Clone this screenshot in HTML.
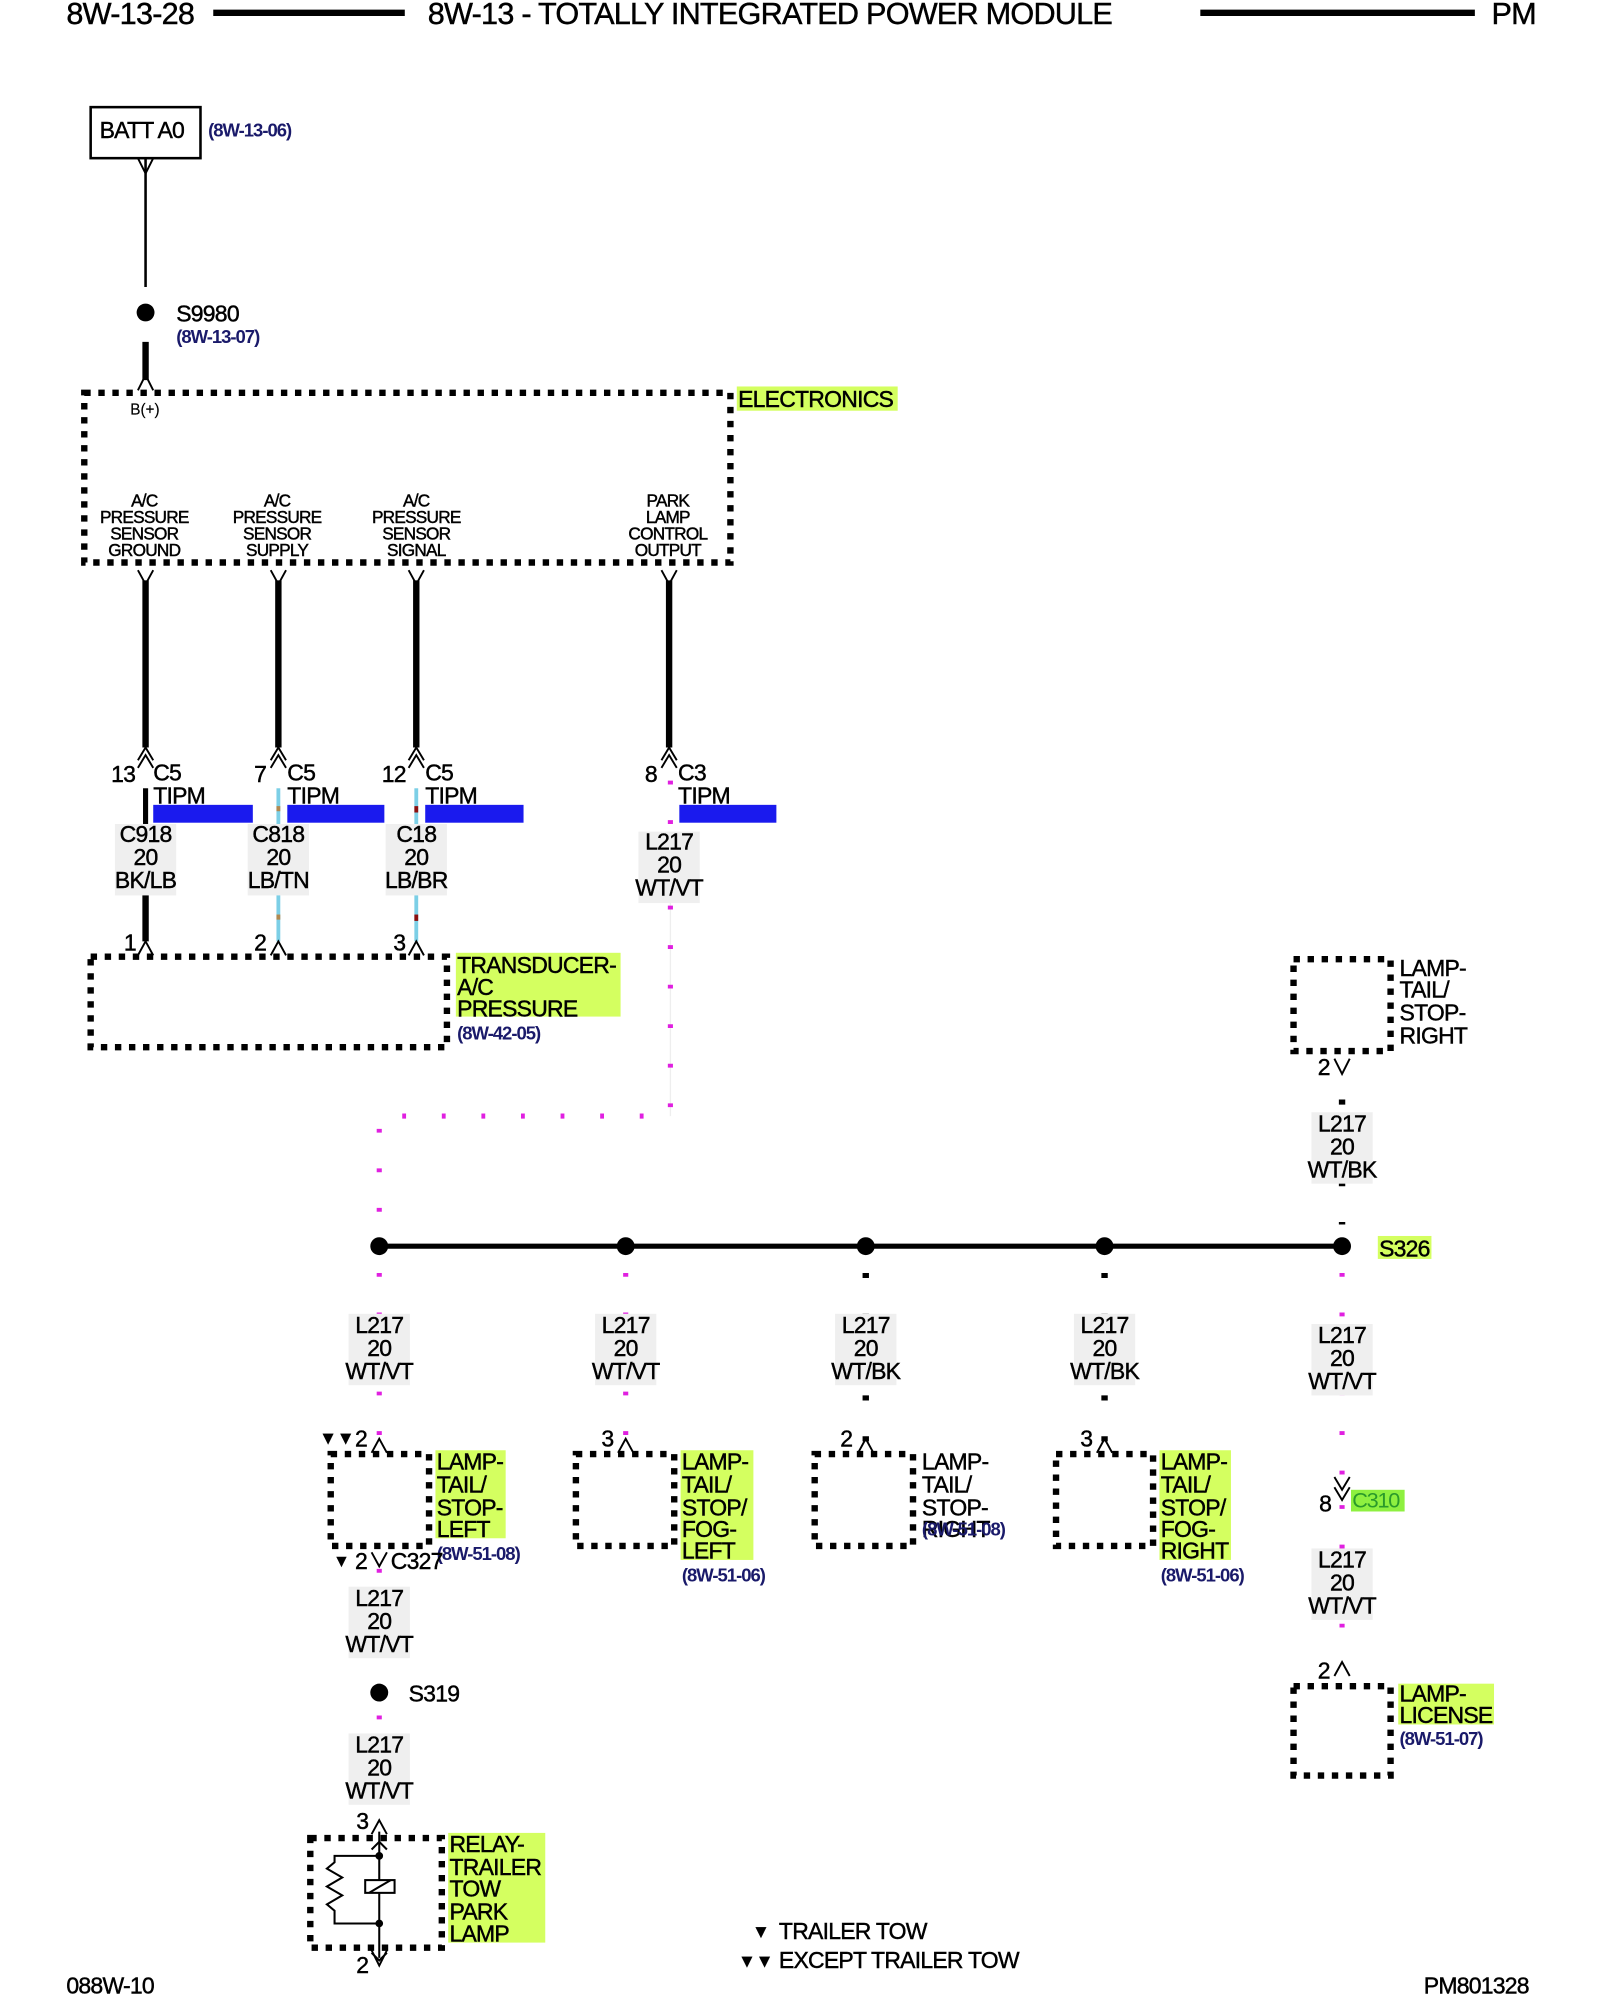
<!DOCTYPE html>
<html><head><meta charset="utf-8"><style>
html,body{margin:0;padding:0;background:#fff;}
svg{display:block}
text{font-family:"Liberation Sans",sans-serif;fill:#000;stroke:#000;stroke-width:0.35px}
.t{font-size:18px;letter-spacing:-0.6px}
.s{font-size:13.5px;letter-spacing:-0.6px;stroke-width:0.2px}
.r{font-size:14.5px;font-weight:bold;fill:#1a1a6a;stroke:none;letter-spacing:-0.8px}
.box{fill:none;stroke:#000;stroke-width:5;stroke-dasharray:5 6}
.pk{stroke:#e020e0;stroke-width:4;stroke-dasharray:3 28;fill:none}
.bk{stroke:#000;stroke-width:5;stroke-dasharray:4 28;fill:none}
.ch{fill:none;stroke:#000;stroke-width:1.5}
</style></head><body>
<svg width="1600" height="2000" viewBox="0 0 1253 1568" preserveAspectRatio="none" xmlns="http://www.w3.org/2000/svg">
<!-- header -->
<text x="52" y="19" style="font-size:24px;letter-spacing:-0.6px">8W-13-28</text>
<line x1="167" y1="10" x2="317" y2="10" stroke="#000" stroke-width="5"/>
<text x="335" y="19" style="font-size:24px;letter-spacing:-0.6px">8W-13 - TOTALLY INTEGRATED POWER MODULE</text>
<line x1="940" y1="10" x2="1155" y2="10" stroke="#000" stroke-width="5"/>
<text x="1168" y="19" style="font-size:24px;letter-spacing:-0.6px">PM</text>

<!-- BATT -->
<rect x="71" y="84" width="86" height="40" fill="none" stroke="#000" stroke-width="2"/>
<text x="78" y="108" class="t">BATT A0</text>
<text x="163" y="107" class="r">(8W-13-06)</text>
<path class="ch" d="M108,124 L114,136 L120,124"/>
<line x1="114" y1="124" x2="114" y2="225" stroke="#000" stroke-width="2"/>
<circle cx="114" cy="245" r="7"/>
<text x="138" y="252" class="t">S9980</text>
<text x="138" y="269" class="r">(8W-13-07)</text>
<line x1="114" y1="268" x2="114" y2="298" stroke="#000" stroke-width="5"/>
<path class="ch" d="M108,306 L114,294 L120,306"/>

<!-- ELECTRONICS -->
<rect x="66" y="308" width="506" height="133" class="box"/>
<rect x="577" y="303" width="126" height="19" fill="#d4ff60"/>
<text x="578" y="319" class="t">ELECTRONICS</text>
<text x="102" y="325" style="font-size:12px;stroke-width:0.1px">B(+)</text>
<g class="s" text-anchor="middle">
<text x="113" y="397">A/C</text><text x="113" y="410">PRESSURE</text><text x="113" y="423">SENSOR</text><text x="113" y="436">GROUND</text>
<text x="217" y="397">A/C</text><text x="217" y="410">PRESSURE</text><text x="217" y="423">SENSOR</text><text x="217" y="436">SUPPLY</text>
<text x="326" y="397">A/C</text><text x="326" y="410">PRESSURE</text><text x="326" y="423">SENSOR</text><text x="326" y="436">SIGNAL</text>
<text x="523" y="397">PARK</text><text x="523" y="410">LAMP</text><text x="523" y="423">CONTROL</text><text x="523" y="436">OUTPUT</text>
</g>

<!-- wires top -->
<g>
<path class="ch" d="M108,447 L114,458 L120,447 M212,447 L218,458 L224,447 M320,447 L326,458 L332,447 M518,447 L524,458 L530,447"/>
<line x1="114" y1="455" x2="114" y2="586" stroke="#000" stroke-width="5"/>
<line x1="218" y1="455" x2="218" y2="586" stroke="#000" stroke-width="5"/>
<line x1="326" y1="455" x2="326" y2="586" stroke="#000" stroke-width="5"/>
<line x1="524" y1="455" x2="524" y2="586" stroke="#000" stroke-width="5"/>
<path class="ch" d="M108,596 L114,586 L120,596 M108,602 L114,592 L120,602 M212,596 L218,586 L224,596 M212,602 L218,592 L224,602 M320,596 L326,586 L332,596 M320,602 L326,592 L332,602 M518,596 L524,586 L530,596 M518,602 L524,592 L530,602"/>
</g>
<g class="t">
<text x="87" y="613">13</text><text x="120" y="612">C5</text><text x="120" y="630">TIPM</text>
<text x="199" y="613">7</text><text x="225" y="612">C5</text><text x="225" y="630">TIPM</text>
<text x="299" y="613">12</text><text x="333" y="612">C5</text><text x="333" y="630">TIPM</text>
<text x="505" y="613">8</text><text x="531" y="612">C3</text><text x="531" y="630">TIPM</text>
</g>
<rect x="120" y="631" width="78" height="14" fill="#1a1aee"/>
<rect x="225" y="631" width="76" height="14" fill="#1a1aee"/>
<rect x="333" y="631" width="77" height="14" fill="#1a1aee"/>
<rect x="532" y="631" width="76" height="14" fill="#1a1aee"/>
<!-- wire segments mid -->
<line x1="114" y1="618" x2="114" y2="650" stroke="#000" stroke-width="4"/>
<line x1="218" y1="618" x2="218" y2="650" stroke="#7ccfe6" stroke-width="3"/>
<line x1="326" y1="618" x2="326" y2="650" stroke="#7ccfe6" stroke-width="3"/>
<path class="pk" d="M525,612 L525,650" stroke-dasharray="3 14"/>
<line x1="114" y1="700" x2="114" y2="738" stroke="#000" stroke-width="5"/>
<line x1="218" y1="700" x2="218" y2="738" stroke="#7ccfe6" stroke-width="3"/>
<line x1="326" y1="700" x2="326" y2="738" stroke="#7ccfe6" stroke-width="3"/>
<rect x="216.5" y="717" width="3" height="4" fill="#b08850"/><rect x="324.5" y="717" width="3" height="5" fill="#8b1010"/>
<rect x="216.5" y="632" width="3" height="4" fill="#b08850"/><rect x="324.5" y="632" width="3" height="5" fill="#8b1010"/>
<!-- wire labels -->
<g fill="#efefef">
<rect x="90" y="646" width="48" height="56"/><rect x="194" y="646" width="48" height="56"/><rect x="302" y="646" width="48" height="56"/><rect x="500" y="652" width="48" height="56"/>
</g>
<g class="t" text-anchor="middle">
<text x="114" y="660">C918</text><text x="114" y="678">20</text><text x="114" y="696">BK/LB</text>
<text x="218" y="660">C818</text><text x="218" y="678">20</text><text x="218" y="696">LB/TN</text>
<text x="326" y="660">C18</text><text x="326" y="678">20</text><text x="326" y="696">LB/BR</text>
<text x="524" y="666">L217</text><text x="524" y="684">20</text><text x="524" y="702">WT/VT</text>
</g>
<path class="ch" d="M108,749 L114,738 L120,749 M212,749 L218,738 L224,749 M320,749 L326,738 L332,749"/>
<g class="t"><text x="97" y="745">1</text><text x="199" y="745">2</text><text x="308" y="745">3</text></g>
<rect x="71" y="750" width="279" height="71" class="box"/>
<rect x="357" y="747" width="129" height="50" fill="#d4ff60"/>
<g class="t"><text x="358" y="763">TRANSDUCER-</text><text x="358" y="780">A/C</text><text x="358" y="797">PRESSURE</text></g>
<text x="358" y="815" class="r">(8W-42-05)</text>

<!-- pink route -->
<line x1="525" y1="708" x2="525" y2="875" stroke="#eee" stroke-width="1"/>
<path class="pk" d="M525,710 L525,875 L297,875 L297,977"/>

<!-- bus -->
<line x1="297" y1="977" x2="1051" y2="977" stroke="#000" stroke-width="4"/>
<g><circle cx="297" cy="977" r="7"/><circle cx="490" cy="977" r="7"/><circle cx="678" cy="977" r="7"/><circle cx="865" cy="977" r="7"/><circle cx="1051" cy="977" r="7"/></g>
<rect x="1079" y="969" width="42" height="18" fill="#d4ff60"/>
<text x="1080" y="985" class="t">S326</text>

<!-- right top lamp -->
<rect x="1013" y="752" width="76" height="72" class="box"/>
<g class="t"><text x="1096" y="765">LAMP-</text><text x="1096" y="782">TAIL/</text><text x="1096" y="800">STOP-</text><text x="1096" y="818">RIGHT</text></g>
<text x="1032" y="843" class="t">2</text>
<path class="ch" d="M1045,830 L1051,842 L1057,830"/>
<path class="bk" d="M1051,862 L1051,960" stroke-dasharray="4 24"/>
<rect x="1027" y="872" width="48" height="56" fill="#efefef"/>
<g class="t" text-anchor="middle"><text x="1051" y="887">L217</text><text x="1051" y="905">20</text><text x="1051" y="923">WT/BK</text></g>

<!-- branches -->
<path class="pk" d="M297,998 L297,1130 M490,998 L490,1130 M1051,998 L1051,1160 M1051,1180 L1051,1300 M297,1230 L297,1320 M297,1345 L297,1420"/>
<path class="bk" d="M678,998 L678,1130 M865,998 L865,1130"/>
<g fill="#efefef">
<rect x="273" y="1030" width="48" height="56"/><rect x="466" y="1030" width="48" height="56"/><rect x="654" y="1030" width="48" height="56"/><rect x="841" y="1030" width="48" height="56"/><rect x="1027" y="1038" width="48" height="56"/>
<rect x="273" y="1244" width="48" height="56"/><rect x="273" y="1359" width="48" height="56"/><rect x="1027" y="1214" width="48" height="56"/>
</g>
<g class="t" text-anchor="middle">
<text x="297" y="1045">L217</text><text x="297" y="1063">20</text><text x="297" y="1081">WT/VT</text>
<text x="490" y="1045">L217</text><text x="490" y="1063">20</text><text x="490" y="1081">WT/VT</text>
<text x="678" y="1045">L217</text><text x="678" y="1063">20</text><text x="678" y="1081">WT/BK</text>
<text x="865" y="1045">L217</text><text x="865" y="1063">20</text><text x="865" y="1081">WT/BK</text>
<text x="1051" y="1053">L217</text><text x="1051" y="1071">20</text><text x="1051" y="1089">WT/VT</text>
<text x="297" y="1259">L217</text><text x="297" y="1277">20</text><text x="297" y="1295">WT/VT</text>
<text x="297" y="1374">L217</text><text x="297" y="1392">20</text><text x="297" y="1410">WT/VT</text>
<text x="1051" y="1229">L217</text><text x="1051" y="1247">20</text><text x="1051" y="1265">WT/VT</text>
</g>

<!-- lamp boxes row -->
<path class="ch" d="M291,1139 L297,1128 L303,1139 M484,1139 L490,1128 L496,1139 M672,1139 L678,1128 L684,1139 M859,1139 L865,1128 L871,1139"/>
<g class="t">
<text x="278" y="1134">2</text><text x="471" y="1134">3</text><text x="658" y="1134">2</text><text x="846" y="1134">3</text>
</g>
<text x="250" y="1132" style="font-size:14px">▼▼</text>
<rect x="259" y="1140" width="77" height="72" class="box"/>
<rect x="451" y="1140" width="77" height="72" class="box"/>
<rect x="638" y="1140" width="77" height="72" class="box"/>
<rect x="827" y="1140" width="76" height="72" class="box"/>
<rect x="341" y="1137" width="55" height="69" fill="#d4ff60"/>
<rect x="533" y="1137" width="57" height="86" fill="#d4ff60"/>
<rect x="908" y="1137" width="56" height="86" fill="#d4ff60"/>
<g class="t">
<text x="342" y="1152">LAMP-</text><text x="342" y="1170">TAIL/</text><text x="342" y="1188">STOP-</text><text x="342" y="1205">LEFT</text>
<text x="534" y="1152">LAMP-</text><text x="534" y="1170">TAIL/</text><text x="534" y="1188">STOP/</text><text x="534" y="1205">FOG-</text><text x="534" y="1222">LEFT</text>
<text x="722" y="1152">LAMP-</text><text x="722" y="1170">TAIL/</text><text x="722" y="1188">STOP-</text><text x="722" y="1205">RIGHT</text>
<text x="909" y="1152">LAMP-</text><text x="909" y="1170">TAIL/</text><text x="909" y="1188">STOP/</text><text x="909" y="1205">FOG-</text><text x="909" y="1222">RIGHT</text>
</g>
<text x="342" y="1223" class="r">(8W-51-08)</text>
<text x="534" y="1240" class="r">(8W-51-06)</text>
<text x="722" y="1204" class="r">(8W-51-08)</text>
<text x="909" y="1240" class="r">(8W-51-06)</text>

<!-- C327 -->
<text x="261" y="1228" style="font-size:13px">▼</text>
<text x="278" y="1230" class="t">2</text>
<path class="ch" d="M291,1217 L297,1228 L303,1217"/>
<text x="306" y="1230" class="t">C327</text>
<circle cx="297" cy="1327" r="7"/>
<text x="320" y="1334" class="t">S319</text>

<!-- relay -->
<text x="279" y="1434" class="t">3</text>
<path class="ch" d="M291,1438 L297,1427 L303,1438"/>
<rect x="243" y="1441" width="103" height="86" class="box"/>
<g fill="none" stroke="#000" stroke-width="1.6">
<line x1="297" y1="1436" x2="297" y2="1535"/>
<path d="M291,1450 L297,1444 L303,1450 M291,1531 L297,1537 L303,1531"/>
<path d="M297,1455 L262,1455 L262,1460 L256,1465 L268,1472 L256,1479 L268,1486 L256,1493 L262,1498 L262,1508 L297,1508"/>
<rect x="286" y="1474" width="23" height="10" fill="#fff"/>
<line x1="289" y1="1484" x2="306" y2="1474"/>
</g>
<circle cx="297" cy="1455" r="3"/><circle cx="297" cy="1508" r="3"/>
<rect x="351" y="1437" width="76" height="86" fill="#d4ff60"/>
<g class="t"><text x="352" y="1452">RELAY-</text><text x="352" y="1470">TRAILER</text><text x="352" y="1487">TOW</text><text x="352" y="1505">PARK</text><text x="352" y="1522">LAMP</text></g>
<text x="279" y="1547" class="t">2</text>
<path class="ch" d="M291,1529 L297,1541 L303,1529"/>

<!-- C310 / license -->
<path class="ch" d="M1045,1158 L1051,1168 L1057,1158 M1045,1166 L1051,1176 L1057,1166"/>
<text x="1033" y="1185" class="t">8</text>
<rect x="1058" y="1168" width="42" height="17" fill="#8ef040"/>
<text x="1059" y="1182" style="font-size:17px;letter-spacing:-1px;fill:#2a9a2a;stroke:none">C310</text>
<text x="1032" y="1316" class="t">2</text>
<path class="ch" d="M1045,1314 L1051,1303 L1057,1314"/>
<rect x="1013" y="1322" width="76" height="70" class="box"/>
<rect x="1095" y="1320" width="75" height="32" fill="#d4ff60"/>
<g class="t"><text x="1096" y="1334">LAMP-</text><text x="1096" y="1351">LICENSE</text></g>
<text x="1096" y="1368" class="r">(8W-51-07)</text>

<!-- legend/footer -->
<text x="589" y="1519" style="font-size:14px">▼</text>
<text x="610" y="1520" class="t">TRAILER TOW</text>
<text x="578" y="1542" style="font-size:14px">▼▼</text>
<text x="610" y="1543" class="t">EXCEPT TRAILER TOW</text>
<text x="52" y="1563" class="t">088W-10</text>
<text x="1115" y="1563" class="t">PM801328</text>
</svg>
</body></html>
